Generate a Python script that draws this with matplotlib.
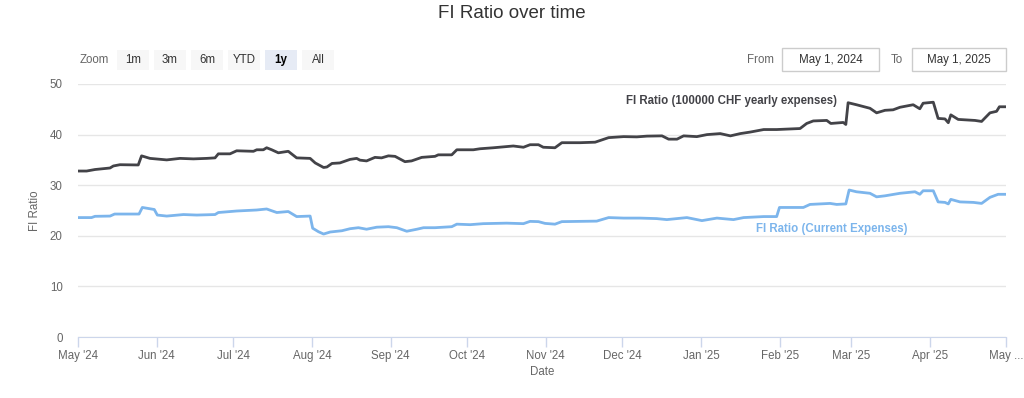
# FI ratio chart, two series over one year

import numpy as np
import matplotlib.pyplot as plt
import matplotlib.dates as mdates
from matplotlib.patches import Rectangle

# data (days after 1 May 2024, ratio)
start = np.datetime64('2024-05-01')

days_fixed = [0, 3.4, 6.7, 12.6, 13.9, 16.5, 23.7, 25.0, 28.3, 34.9, 40.1, 45.4, 50.6,
              53.9, 55.2, 59.8, 62.4, 69.0, 70.3, 72.9, 74.2, 76.2, 78.8, 82.7, 86.0,
              91.3, 93.3, 96.6, 97.9, 99.9, 103, 107, 109.6, 110.9, 113.5, 116.8, 119.4,
              122.1, 124.7, 128.6, 131.2, 135.2, 140.4, 141.7, 147, 149, 155.5, 158.1,
              163.4, 171.2, 175.2, 177.8, 181.1, 183.0, 187.6, 190.3, 197.5, 203.4,
              208.7, 214.6, 219.8, 223.8, 229.7, 232.3, 235.6, 238.2, 243.4, 247.4,
              252.6, 256.6, 260.5, 264.4, 269.7, 274.8, 284, 286.6, 289.2, 294.5,
              296.1, 301, 302, 302.9, 306.2, 311.5, 314.1, 317.4, 320.6, 323.3, 328.5,
              331.1, 332.4, 336.4, 338.3, 341, 342.3, 343.3, 346.2, 349.5, 352.8, 355.4,
              358.7, 361.3, 362.4, 365]
ratio_fixed = [32.8, 32.8, 33.1, 33.4, 33.8, 34.05, 34.0, 35.8, 35.3, 35.0, 35.3, 35.2, 35.3,
               35.4, 36.2, 36.2, 36.8, 36.7, 37.0, 37.0, 37.4, 37.0, 36.4, 36.7, 35.4,
               35.3, 34.4, 33.5, 33.6, 34.3, 34.4, 35.1, 35.3, 34.95, 34.8, 35.5, 35.4,
               35.8, 35.7, 34.65, 34.8, 35.5, 35.7, 36.0, 36.0, 37.0, 37.0, 37.2,
               37.4, 37.75, 37.5, 38.0, 38.0, 37.5, 37.4, 38.4, 38.4, 38.5,
               39.4, 39.6, 39.55, 39.7, 39.75, 39.1, 39.1, 39.75, 39.6, 40.0,
               40.2, 39.75, 40.2, 40.5, 41.0, 41.0, 41.2, 42.2, 42.7, 42.8,
               42.2, 42.4, 42.0, 46.3, 45.9, 45.2, 44.3, 44.8, 44.9, 45.4, 45.9,
               45.1, 46.2, 46.4, 43.2, 43.1, 42.35, 43.9, 43.0, 42.9, 42.8, 42.6,
               44.3, 44.6, 45.5, 45.5]

days_current = [0, 5.3, 6.7, 12.6, 14.4, 24, 25.3, 30, 31.2, 34.9, 41.5, 46.7, 53.9, 55.2,
                62.4, 70.3, 74.2, 78.2, 82.7, 86.0, 91.3, 92.3, 94.6, 96.6, 99.2, 103.8,
                107, 110.3, 113.5, 117.5, 122.1, 125.4, 129.3, 133.3, 135.9, 140.4, 147,
                149, 154.2, 159.4, 168.6, 175.2, 177.8, 181.1, 183.7, 187.6, 190.3, 204,
                208.7, 214.6, 221.1, 227.6, 231.6, 239.5, 245.4, 251.3, 257.8, 261.8,
                269.7, 274.8, 275.9, 285.3, 287.9, 295.8, 298.4, 302, 303.3, 306.2,
                311.5, 314.1, 317.4, 323.3, 329.2, 331.1, 332.4, 336.4, 338.3, 341,
                342.3, 343.3, 346.9, 352.2, 355.4, 358.7, 361.9, 365]
ratio_current = [23.6, 23.6, 23.85, 23.9, 24.3, 24.3, 25.6, 25.2, 24.1, 23.9, 24.2, 24.1, 24.2, 24.6,
                 24.9, 25.1, 25.3, 24.6, 24.8, 23.8, 23.9, 21.5, 20.8, 20.35, 20.75, 21.0,
                 21.4, 21.6, 21.3, 21.7, 21.8, 21.6, 20.9, 21.3, 21.6, 21.6, 21.8,
                 22.3, 22.2, 22.4, 22.5, 22.4, 22.85, 22.8, 22.45, 22.3, 22.8, 22.9,
                 23.6, 23.5, 23.5, 23.4, 23.2, 23.6, 23.0, 23.5, 23.2, 23.6,
                 23.8, 23.8, 25.6, 25.6, 26.2, 26.4, 26.2, 26.3, 29.05, 28.7,
                 28.4, 27.7, 27.9, 28.4, 28.7, 28.2, 28.9, 28.9, 26.7, 26.6,
                 26.3, 27.2, 26.7, 26.6, 26.4, 27.6, 28.2, 28.2]

month_ticks = ['2024-05-01', '2024-06-01', '2024-07-01', '2024-08-01', '2024-09-01',
               '2024-10-01', '2024-11-01', '2024-12-01', '2025-01-01', '2025-02-01',
               '2025-03-01', '2025-04-01', '2025-05-01']
month_labels = ["May '24", "Jun '24", "Jul '24", "Aug '24", "Sep '24", "Oct '24",
                "Nov '24", "Dec '24", "Jan '25", "Feb '25", "Mar '25", "Apr '25", "May ..."]
y_ticks = [0, 10, 20, 30, 40, 50]

zoom_buttons = ['1m', '3m', '6m', 'YTD', '1y', 'All']
selected_button = '1y'
date_from = 'May 1, 2024'
date_to = 'May 1, 2025'

# colours
col_fixed = '#434348'
col_current = '#7cb5ec'
col_text = '#666666'
col_grid = '#e6e6e6'
col_axis = '#ccd6eb'

W, H = 1024, 398


def fx(x):
    return x / W


def fy(y):
    return 1 - y / H


# convert days to matplotlib date numbers
t0 = mdates.date2num(start)
x_fixed = t0 + np.array(days_fixed)
x_current = t0 + np.array(days_current)
x_ticks = mdates.date2num(np.array(month_ticks, dtype='datetime64[D]'))

# setup the figure
plt.rcParams['font.family'] = ['Liberation Sans', 'DejaVu Sans']
fig = plt.figure(figsize=(W / 100, H / 100), dpi=100)
fig.patch.set_facecolor('white')

ax = fig.add_axes([fx(78), fy(337), fx(1006) - fx(78), fy(84) - fy(337)])
ax.plot(x_current, ratio_current, color=col_current, lw=2, solid_joinstyle='round', zorder=3)
ax.plot(x_fixed, ratio_fixed, color=col_fixed, lw=2, solid_joinstyle='round', zorder=3)

ax.set_xlim(t0, t0 + 365)
ax.set_ylim(0, 50)
ax.set_yticks(y_ticks)
ax.set_xticks(x_ticks)
ax.set_xticklabels(month_labels)

for s in ['top', 'right', 'left']:
    ax.spines[s].set_visible(False)
ax.spines['bottom'].set_color(col_axis)
ax.grid(axis='y', color=col_grid, lw=1)
ax.set_axisbelow(True)
ax.tick_params(axis='x', length=7.2, width=1, color=col_axis, pad=2,
               labelsize=8.3, labelcolor=col_text)
ax.tick_params(axis='y', length=0, pad=11, labelsize=8.3, labelcolor=col_text)

ax.set_xlabel('Date', fontsize=8.3, color=col_text)
ax.xaxis.set_label_coords(0.5, -0.115)
ax.set_ylabel('FI Ratio', fontsize=8.3, color=col_text)
ax.yaxis.set_label_coords(-0.04, 0.5)

# series labels
fig.text(fx(731), fy(101), 'FI Ratio (100000 CHF yearly expenses)', ha='center', va='center',
         fontsize=8.3, fontweight='bold', color=col_fixed)
fig.text(fx(832), fy(229), 'FI Ratio (Current Expenses)', ha='center', va='center',
         fontsize=8.3, fontweight='bold', color=col_current)

# title
fig.text(0.5, fy(14), 'FI Ratio over time', ha='center', va='center', fontsize=13.5, color='#333333')

# range selector buttons
fig.text(fx(80), fy(60), 'Zoom', ha='left', va='center', fontsize=8.3, color=col_text)
bx = 117
for b in zoom_buttons:
    sel = b == selected_button
    fig.patches.append(Rectangle((fx(bx), fy(70)), fx(32), fy(50) - fy(70),
                                 transform=fig.transFigure, facecolor='#e6ebf5' if sel else '#f7f7f7',
                                 edgecolor='none'))
    fig.text(fx(bx + 16), fy(60), b, ha='center', va='center', fontsize=8.3,
             color='#000000' if sel else '#333333', fontweight='bold' if sel else 'normal')
    bx += 37

# date inputs
fig.text(fx(761), fy(60), 'From', ha='center', va='center', fontsize=8.3, color=col_text)
fig.patches.append(Rectangle((fx(782), fy(71)), fx(97), fy(48) - fy(71), transform=fig.transFigure,
                             facecolor='white', edgecolor='#cccccc', lw=1))
fig.text(fx(830.5), fy(60), date_from, ha='center', va='center', fontsize=8.3, color='#333333')
fig.text(fx(897), fy(60), 'To', ha='center', va='center', fontsize=8.3, color=col_text)
fig.patches.append(Rectangle((fx(912), fy(71)), fx(94), fy(48) - fy(71), transform=fig.transFigure,
                             facecolor='white', edgecolor='#cccccc', lw=1))
fig.text(fx(959), fy(60), date_to, ha='center', va='center', fontsize=8.3, color='#333333')

fig.savefig('out.png', dpi=100)
